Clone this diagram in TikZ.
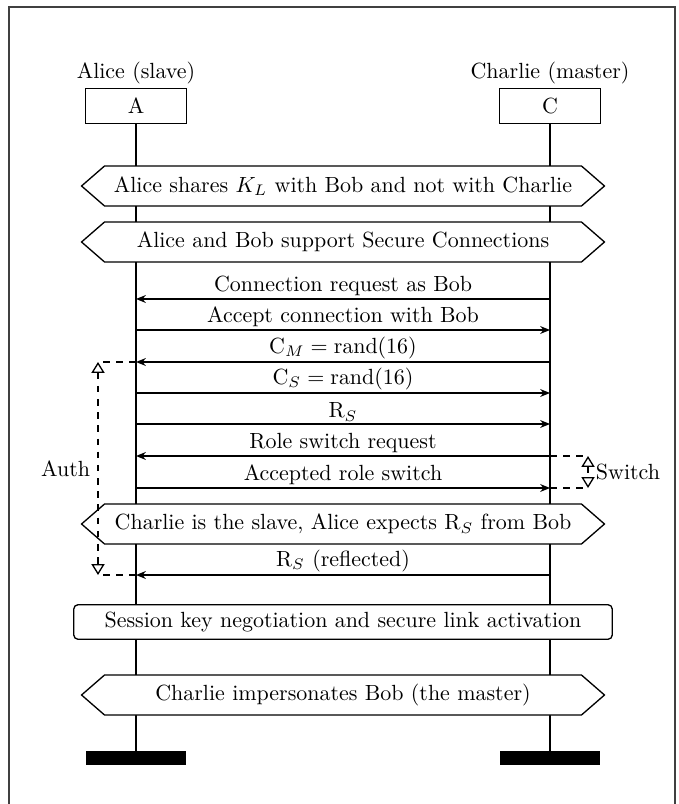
\documentclass[tikz,border=0pt]{standalone}
\usetikzlibrary{arrows.meta,shapes.symbols,backgrounds}

\tikzset{
    inst/.style={draw, line width=0.6pt, fill=white, minimum width=1.616cm, minimum height=0.56cm},
    iname/.style={above, inner sep=1.5pt},
    endbar/.style={fill=black, inner sep=0pt, minimum width=1.616cm, minimum height=0.224cm},
    life/.style={line width=0.6pt},
    cond/.style={draw, line width=0.6pt, fill=white, signal, signal to=west and east,
        signal pointer angle=82, minimum width=8.37cm, minimum height=0.64cm},
    action/.style={draw, line width=0.6pt, fill=white, rounded corners=2pt,
        minimum width=8.62cm, minimum height=0.53cm},
    msg/.style={line width=0.6pt, -{Stealth[length=4.5pt,width=3.6pt,inset=1.5pt]}},
    lbl/.style={above, inner sep=1pt},
    meas/.style={line width=0.6pt, dashed},
    mtips/.style={{Triangle[open,length=5pt,width=6pt]}-{Triangle[open,length=5pt,width=6pt]}}
}

\begin{document}
\begin{tikzpicture}[x=0.016cm, y=-0.016cm]
    \useasboundingbox (0,0) rectangle (678,804);

    % frame (bottom edge lies below the picture)
    \draw [line width=0.8pt, black!75] (9,830) -- (9,7) -- (675,7) -- (675,830);

    % instances
    \node[inst] (A) at (136,106) {A};
    \node[iname] (Aname) at (A.north) {Alice (slave)};
    \node[inst] (C) at (550,106) {C};
    \node[iname] (Cname) at (C.north) {Charlie (master)};

    \node[endbar] (Aend) at (136,758) {};
    \node[endbar] (Cend) at (550,758) {};

    % conditions and action
    \node[cond] (kl) at (343,186) {Alice shares $K_L$ with Bob and not with Charlie};
    \node[cond] (sc) at (343,242) {Alice and Bob support Secure Connections};
    \node[cond] (slave) at (343,524) {Charlie is the slave, Alice expects R$_S$ from Bob};
    \node[action] (sess) at (343,622) {Session key negotiation and secure link activation};
    \node[cond] (imp) at (343,695) {Charlie impersonates Bob (the master)};

    % lifelines
    \begin{scope}[on background layer]
        \draw[life] (A) -- (Aend);
        \draw[life] (C) -- (Cend);
    \end{scope}

    % message points on the lifelines
    \foreach \n/\y in {1/299,2/330,3/362,4/393,5/424,6/456,7/488,8/575} {
        \coordinate (a\n) at (136,\y);
        \coordinate (c\n) at (550,\y);
    }

    % messages
    \draw[msg] (c1) -- node[lbl] {Connection request as Bob} (a1);
    \draw[msg] (a2) -- node[lbl] {Accept connection with Bob} (c2);
    \draw[msg] (c3) -- node[lbl] {$\mathrm{C}_M = \mathrm{rand}(16)$} (a3);
    \draw[msg] (a4) -- node[lbl] {$\mathrm{C}_S = \mathrm{rand}(16)$} (c4);
    \draw[msg] (a5) -- node[lbl] {R$_S$} (c5);
    \draw[msg] (c6) -- node[lbl] {Role switch request} (a6);
    \draw[msg] (a7) -- node[lbl] {Accepted role switch} (c7);
    \draw[msg] (c8) -- node[lbl] {R$_S$ (reflected)} (a8);

    % Auth measure
    \coordinate (auth1) at (98,362);
    \coordinate (auth2) at (98,575);
    \draw[meas] (a3) -- (auth1);
    \draw[meas] (a8) -- (auth2);
    \draw[meas, mtips] (auth1) -- node[left] {Auth} (auth2);

    % Switch measure
    \coordinate (sw1) at (588,456);
    \coordinate (sw2) at (588,488);
    \draw[meas] (c6) -- (sw1);
    \draw[meas] (c7) -- (sw2);
    \draw[meas, mtips] (sw1) -- node[right] {Switch} (sw2);
\end{tikzpicture}
\end{document}
